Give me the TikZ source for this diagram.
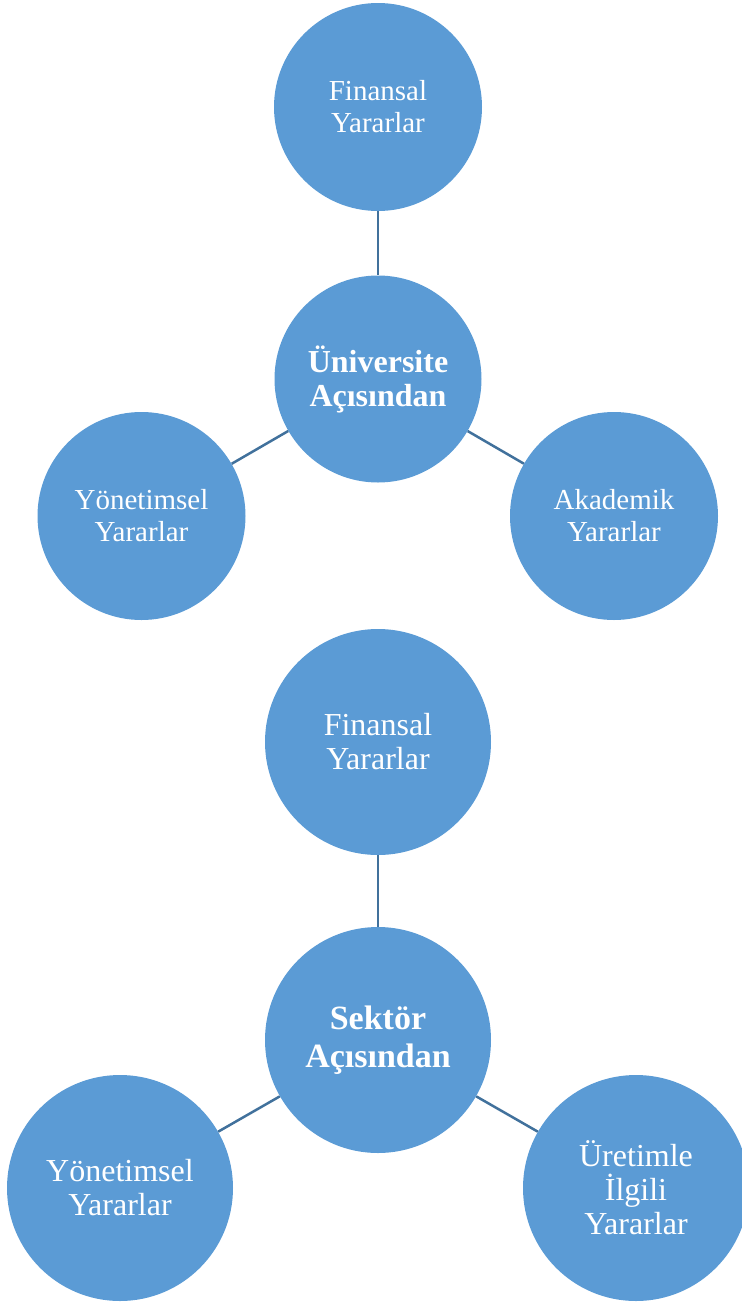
\documentclass[tikz,border=0pt]{standalone}
\usepackage{fontspec}
\setmainfont{Liberation Serif}
\definecolor{circfill}{HTML}{5B9BD5}
\definecolor{linkcol}{HTML}{41719C}
\tikzset{
  bubble/.style={circle, fill=circfill, draw=none, inner sep=0pt, align=center, text=white},
  smallb/.style={bubble, minimum size=208pt, font=\fontsize{29}{32}\selectfont},
  smallhub/.style={bubble, minimum size=207pt, font=\fontsize{32}{34}\selectfont\bfseries},
  bigb/.style={bubble, minimum size=226pt, font=\fontsize{32}{34}\selectfont},
  bighub/.style={bubble, minimum size=226pt, font=\fontsize{34}{38}\selectfont\bfseries},
  link/.style={draw=linkcol, line width=2.5pt}
}
\begin{document}
\begin{tikzpicture}[x=1pt,y=-1pt]
\useasboundingbox (0,0) rectangle (742,1302);
% top group
\node[smallb] (fin1) at (378,107) {Finansal\\Yararlar};
\node[smallhub] (uni) at (378,379) {Üniversite\\Açısından};
\node[smallb] (yon1) at (141.5,516) {Yönetimsel\\Yararlar};
\node[smallb] (aka) at (614,516) {Akademik\\Yararlar};
\draw[link] (fin1) -- (uni);
\draw[link] (uni) -- (yon1);
\draw[link] (uni) -- (aka);
% bottom group
\node[bigb] (fin2) at (378,742) {Finansal\\Yararlar};
\node[bighub] (sek) at (378,1040) {Sektör\\Açısından};
\node[bigb] (yon2) at (120,1188) {Yönetimsel\\Yararlar};
\node[bigb] (ure) at (636,1188) {Üretimle\\İlgili\\Yararlar};
\draw[link] (fin2) -- (sek);
\draw[link] (sek) -- (yon2);
\draw[link] (sek) -- (ure);
\end{tikzpicture}
\end{document}
